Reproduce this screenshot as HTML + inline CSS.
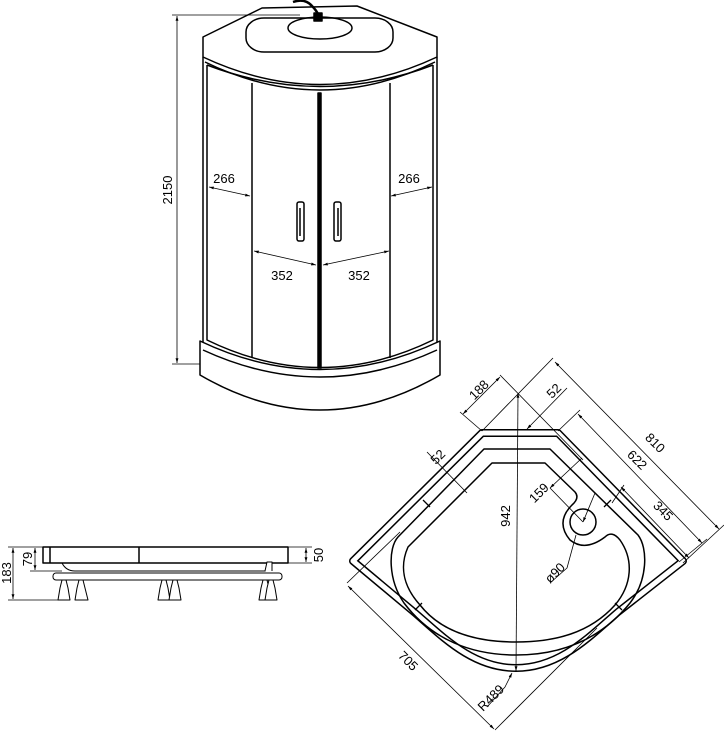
<!DOCTYPE html>
<html><head><meta charset="utf-8"><style>
html,body{margin:0;padding:0;background:#fff;}
svg{display:block;}
text{font-family:"Liberation Sans Narrow","Liberation Sans",sans-serif;font-size:13px;fill:#000;}
</style></head><body>
<svg width="724" height="734" viewBox="0 0 724 734" xmlns="http://www.w3.org/2000/svg">
<defs>
<marker id="a" viewBox="0 0 10 10" refX="10" refY="5" markerWidth="6" markerHeight="6" orient="auto-start-reverse"><path d="M0,2 L10,5 L0,8 z" fill="#000"/></marker>
</defs>
<g fill="none" stroke="#000" stroke-width="1.5" stroke-linejoin="round">
<!-- FRONT VIEW -->
<path d="M203,37 L262,8 L357,6 L437,37 L437,57 Q320,112 203,57 Z" fill="#fff"/>
<path d="M205,62 Q320,118 435,62"/>
<rect x="246" y="18" width="147" height="34" rx="18" ry="14" fill="#fff"/>
<ellipse cx="320" cy="28" rx="32" ry="11"/>
<path d="M293,2 Q305,-2 312,6 Q316,10 318,14" stroke-width="2.5"/>
<rect x="314" y="13" width="8" height="8" fill="#000"/>
<line x1="203" y1="57" x2="203" y2="345"/>
<line x1="437" y1="57" x2="437" y2="345"/>
<path d="M207,65 L207,340 Q320,395 433,340 L433,65"/>
<path d="M207,65 Q320,108 433,65"/>
<line x1="252" y1="83" x2="252" y2="358"/>
<line x1="390" y1="83" x2="390" y2="358"/>
<rect x="318" y="93" width="3" height="275" fill="#000"/>
<path d="M200,341 Q320,398 440,341 L440,375 Q320,445 200,375 Z" fill="#fff"/>
<path d="M203,350 Q320,404 437,350"/>
<rect x="297" y="202" width="7" height="39" rx="2"/>
<path d="M300,208 L300,236"/>
<rect x="334" y="202" width="7" height="39" rx="2"/>
<path d="M338,208 L338,236"/>
<!-- dims front -->
<g stroke-width="0.8">
<line x1="172" y1="15" x2="300" y2="15"/>
<line x1="172" y1="364" x2="200" y2="364"/>
<line x1="177" y1="16" x2="177" y2="363" marker-start="url(#a)" marker-end="url(#a)"/>
<line x1="209" y1="187" x2="250" y2="196" marker-start="url(#a)" marker-end="url(#a)"/>
<line x1="391" y1="196" x2="432" y2="187" marker-start="url(#a)" marker-end="url(#a)"/>
<line x1="254" y1="251" x2="316" y2="265" marker-start="url(#a)" marker-end="url(#a)"/>
<line x1="323" y1="265" x2="389" y2="251" marker-start="url(#a)" marker-end="url(#a)"/>
</g>
<!-- PLAN VIEW -->
<path d="M353,561 L482,433 L558,433 L683,561 L618,612 C590,636 560,668 516,668 C472,668 442,636 414,612 Z" stroke="#000" stroke-width="8"/>
<path d="M353,561 L482,433 L558,433 L683,561 L618,612 C590,636 560,668 516,668 C472,668 442,636 414,612 Z" stroke="#fff" stroke-width="5"/>
<path d="M484,449 L550,449 L638,535 C648,548 648,580 630,603 C600,640 560,655 516,655 C472,655 432,640 404,603 C388,580 388,548 398,537 Z"/>
<path d="M492,463 L545,463 L575,492 Q580,498 572,505 Q555,522 570,540 Q585,552 605,537 Q612,530 620,540 C634,560 632,585 615,605 C590,633 555,642 516,642 C477,642 442,633 420,605 C402,585 400,565 408,547 Z"/>
<circle cx="583" cy="522" r="13"/>
<g stroke-width="1.3">
<path d="M423,500 L430,507 M611,500 L604,507 M415,610 L422,603 M622,610 L615,603"/>
</g>
<g stroke-width="0.8">
<line x1="482" y1="431" x2="553" y2="358"/>
<line x1="683" y1="563" x2="724" y2="525"/>
<line x1="555" y1="362" x2="719" y2="529" marker-start="url(#a)" marker-end="url(#a)"/>
<line x1="558" y1="431" x2="580" y2="410"/>
<line x1="679" y1="562" x2="707" y2="539"/>
<line x1="578" y1="414" x2="702" y2="543" marker-start="url(#a)" marker-end="url(#a)"/>
<line x1="612" y1="503" x2="624" y2="485"/>
<line x1="621" y1="487" x2="689" y2="558" marker-start="url(#a)" marker-end="url(#a)"/>
<line x1="518" y1="393" x2="516" y2="671" marker-start="url(#a)" marker-end="url(#a)"/>
<line x1="482" y1="431" x2="460" y2="412"/>
<line x1="500" y1="375" x2="583" y2="460"/>
<line x1="463" y1="414" x2="500" y2="377" marker-start="url(#a)" marker-end="url(#a)"/>
<line x1="527" y1="429" x2="567" y2="388" marker-start="url(#a)"/>
<line x1="427" y1="452" x2="467" y2="493"/>
<line x1="550" y1="488" x2="583" y2="522"/>
<line x1="550" y1="488" x2="582" y2="458" marker-start="url(#a)"/>
<line x1="595" y1="493" x2="583" y2="522" marker-end="url(#a)"/>
<path d="M576,535 L567,568 L550,583" />
<line x1="400" y1="532" x2="347" y2="583"/>
<line x1="597" y1="628" x2="495" y2="730"/>
<line x1="348" y1="586" x2="494" y2="729" marker-start="url(#a)" marker-end="url(#a)"/>
<path d="M487,707 L505,687 L512,673" marker-end="url(#a)"/>
</g>
<!-- SIDE VIEW -->
<rect x="43" y="547" width="245" height="16" fill="#fff"/>
<line x1="50" y1="547" x2="50" y2="563"/>
<line x1="139" y1="547" x2="139" y2="563"/>
<path d="M62,563 Q66,571 75,571 L265,571 Q270,569 270,563" stroke-width="1"/>
<rect x="53" y="573" width="229" height="7" rx="3" stroke-width="1"/>
<g stroke-width="1" fill="#fff">
<path d="M58,600 L60,588 L62,580 L66,580 L68,588 L70,600 Z"/>
<path d="M75,600 L77,588 L79,580 L83,580 L85,588 L88,600 Z"/>
<path d="M158,600 L160,588 L162,580 L166,580 L168,588 L170,600 Z"/>
<path d="M169,600 L171,588 L173,580 L177,580 L179,588 L181,600 Z"/>
<path d="M259,600 L261,588 L263,580 L267,580 L269,588 L271,600 Z"/>
<path d="M265,600 L267,588 L269,580 L273,580 L275,588 L277,600 Z"/>
<path d="M265,571 L267,562 L272,562 L272,571"/>
</g>
<g stroke-width="0.8">
<line x1="8" y1="547" x2="43" y2="547"/>
<line x1="8" y1="600" x2="60" y2="600"/>
<line x1="30" y1="571" x2="62" y2="571"/>
<line x1="13" y1="548" x2="13" y2="599" marker-start="url(#a)" marker-end="url(#a)"/>
<line x1="35" y1="548" x2="35" y2="570" marker-start="url(#a)" marker-end="url(#a)"/>
<line x1="288" y1="547" x2="312" y2="547"/>
<line x1="288" y1="563" x2="312" y2="563"/>
<line x1="306" y1="548" x2="306" y2="562" marker-start="url(#a)" marker-end="url(#a)"/>
</g>
</g>
<!-- TEXT -->
<text x="224" y="183" text-anchor="middle">266</text>
<text x="409" y="183" text-anchor="middle">266</text>
<text x="282" y="280" text-anchor="middle">352</text>
<text x="359" y="280" text-anchor="middle">352</text>
<text transform="translate(172,190) rotate(-90)" text-anchor="middle">2150</text>
<text transform="translate(510,516) rotate(-90)" text-anchor="middle">942</text>
<text transform="translate(652,446) rotate(45)" text-anchor="middle">810</text>
<text transform="translate(634,463) rotate(45)" text-anchor="middle">622</text>
<text transform="translate(660,514) rotate(45)" text-anchor="middle">345</text>
<text transform="translate(482,393) rotate(-45)" text-anchor="middle">188</text>
<text transform="translate(557,394) rotate(-45)" text-anchor="middle">52</text>
<text transform="translate(441,460) rotate(-45)" text-anchor="middle">52</text>
<text transform="translate(542,496) rotate(-45)" text-anchor="middle">159</text>
<text transform="translate(558,576) rotate(-45)" text-anchor="middle">ø90</text>
<text transform="translate(405,664) rotate(45)" text-anchor="middle">705</text>
<text transform="translate(494,701) rotate(-45)" text-anchor="middle">R489</text>
<text transform="translate(11,573) rotate(-90)" text-anchor="middle">183</text>
<text transform="translate(32,559) rotate(-90)" text-anchor="middle">79</text>
<text transform="translate(323,555) rotate(-90)" text-anchor="middle">50</text>
</svg>
</body></html>
